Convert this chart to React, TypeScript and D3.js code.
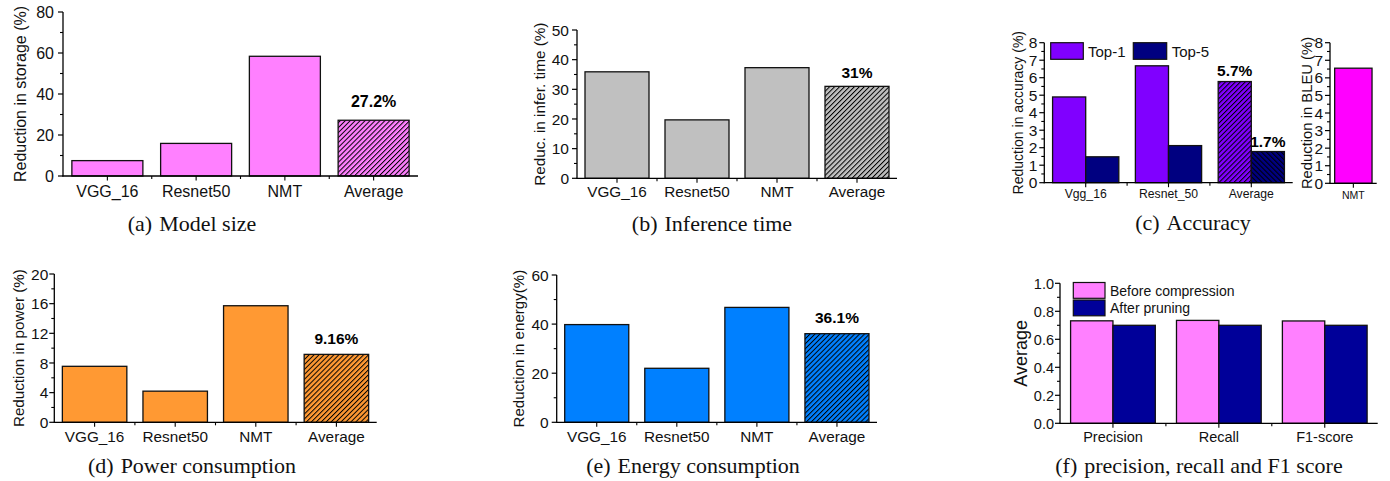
import React from 'react';
import * as d3 from 'd3';

// ---------- data ----------
const modelCategories = ['VGG_16', 'Resnet50', 'NMT', 'Average'];
const storageReduction = [7.5, 15.9, 58.4, 27.2];
const storageTicks = [0, 20, 40, 60, 80];

const inferenceReduction = [35.9, 19.7, 37.3, 31.0];
const inferenceTicks = [0, 10, 20, 30, 40, 50];

const accuracyCategories = ['Vgg_16', 'Resnet_50', 'Average'];
const top1Reduction = [4.9, 6.68, 5.78];
const top5Reduction = [1.48, 2.12, 1.78];
const accuracyTicks = [0, 1, 2, 3, 4, 5, 6, 7, 8];
const bleuCategories = ['NMT'];
const bleuReduction = [6.55];

const powerReduction = [7.55, 4.2, 15.72, 9.16];
const powerTicks = [0, 4, 8, 12, 16, 20];

const energyReduction = [39.8, 22.0, 46.8, 36.1];
const energyTicks = [0, 20, 40, 60];

const metricCategories = ['Precision', 'Recall', 'F1-score'];
const beforeCompression = [0.732, 0.735, 0.731];
const afterPruning = [0.7, 0.7, 0.7];
const averageTicks = [0, 0.2, 0.4, 0.6, 0.8, 1.0];

const storageLabel = '27.2%';
const inferenceLabel = '31%';
const top1Label = '5.7%';
const top5Label = '1.7%';
const powerLabel = '9.16%';
const energyLabel = '36.1%';

const SANS = "'Liberation Sans', Arial, Helvetica, sans-serif";
const SERIF = "'Liberation Serif', 'Times New Roman', serif";

type Series = {
  values: number[];
  color: string;
  hatch?: (i: number) => string | null;
  labels?: (string | null)[];
};

type PanelProps = {
  x0: number; x1: number; yTop: number; yBottom: number;
  categories: string[];
  series: Series[];
  ticks: number[];
  tickFmt?: (v: number) => string;
  tickFont: number;
  tickGap: number;
  xFont: number;
  xLabelY: number;
  yLabel: string;
  yLabelX: number;
  yLabelFont: number;
  valueFont?: number;
  valueOffset?: number[];
};

function Panel(p: PanelProps) {
  const ticks = p.ticks;
  const y = d3.scaleLinear().domain([ticks[0], ticks[ticks.length - 1]]).range([p.yBottom, p.yTop]);
  const xb = d3.scaleBand<string>().domain(p.categories).range([p.x0, p.x1]).paddingInner(0.2).paddingOuter(0.1);
  const xs = d3.scaleBand<string>().domain(p.series.map((_, i) => String(i))).range([0, xb.bandwidth()]);
  const minor = d3.pairs(ticks).map(([a, b]) => (a + b) / 2);
  const step = xb.step();
  const centers = p.categories.map((c) => (xb(c) as number) + xb.bandwidth() / 2);
  const bounds = p.categories.slice(1).map((c) => (xb(c) as number) - (step - xb.bandwidth()) / 2);
  const fmt = p.tickFmt || ((v: number) => String(v));
  return (
    <g>
      {p.series.map((s, si) =>
        p.categories.map((c, i) => {
          const bx = (xb(c) as number) + (xs(String(si)) as number);
          const bw = xs.bandwidth();
          const by = y(s.values[i]);
          const bh = y(0) - by;
          const h = s.hatch ? s.hatch(i) : null;
          return (
            <g key={`${si}-${i}`}>
              <rect x={bx} y={by} width={bw} height={bh} fill={s.color} />
              {h && <rect x={bx} y={by} width={bw} height={bh} fill={`url(#${h})`} />}
              <rect x={bx} y={by} width={bw} height={bh} fill="none" stroke="#111" strokeWidth={1.3} />
              {s.labels && s.labels[i] && (
                <text x={bx + bw / 2} y={by - (p.valueOffset ? p.valueOffset[si] : 8)} textAnchor="middle"
                  fontFamily={SANS} fontWeight="bold" fontSize={p.valueFont || 16} fill="#000">
                  {s.labels[i]}
                </text>
              )}
            </g>
          );
        })
      )}
      <line x1={p.x0} x2={p.x0} y1={y(ticks[0]) + 0.5} y2={p.yTop} stroke="#000" strokeWidth={1.3} />
      {ticks.map((t) => (
        <g key={`yt${t}`}>
          <line x1={p.x0 - 5} x2={p.x0} y1={y(t)} y2={y(t)} stroke="#000" strokeWidth={1.2} />
          <text x={p.x0 - p.tickGap} y={y(t)} dy="0.36em" textAnchor="end" fontFamily={SANS} fontSize={p.tickFont} fill="#111">
            {fmt(t)}
          </text>
        </g>
      ))}
      {minor.map((t) => (
        <line key={`ym${t}`} x1={p.x0 - 3} x2={p.x0} y1={y(t)} y2={y(t)} stroke="#000" strokeWidth={1.1} />
      ))}
      <line x1={p.x0 - 0.6} x2={p.x1} y1={y(0)} y2={y(0)} stroke="#000" strokeWidth={1.3} />
      {centers.map((cx, i) => (
        <line key={`xc${i}`} x1={cx} x2={cx} y1={y(0)} y2={y(0) + 4.5} stroke="#000" strokeWidth={1.1} />
      ))}
      {bounds.map((bx, i) => (
        <line key={`xb${i}`} x1={bx} x2={bx} y1={y(0)} y2={y(0) + 3} stroke="#000" strokeWidth={1.1} />
      ))}
      {p.categories.map((c, i) => (
        <text key={`xl${c}`} x={centers[i]} y={p.xLabelY} textAnchor="middle" fontFamily={SANS} fontSize={p.xFont} fill="#111">
          {c}
        </text>
      ))}
      <text transform={`translate(${p.yLabelX},${(p.yTop + p.yBottom) / 2}) rotate(-90)`} dy="0.35em" textAnchor="middle"
        fontFamily={SANS} fontSize={p.yLabelFont} fill="#111">
        {p.yLabel}
      </text>
    </g>
  );
}

function Caption({ x, y, label, text }: { x: number; y: number; label: string; text: string }) {
  return (
    <text x={x} y={y} textAnchor="middle" fontFamily={SERIF} fontSize={22} fill="#111">
      {label}
      <tspan dx={7}>{text}</tspan>
    </text>
  );
}

const lastHatch = (id: string, n: number) => (i: number) => (i === n - 1 ? id : null);
const lastLabel = (label: string, n: number) => Array.from({ length: n }, (_, i) => (i === n - 1 ? label : null));

export default function App() {
  const n4 = modelCategories.length;
  const n3 = accuracyCategories.length;
  return (
    <svg width={1390} height={481} style={{ position: 'absolute', left: 0, top: 0, background: '#fff' }}>
      <defs>
        <pattern id="hatchF" patternUnits="userSpaceOnUse" width={3.5} height={10} patternTransform="rotate(45)">
          <line x1={0.5} y1={0} x2={0.5} y2={10} stroke="#000" strokeWidth={1} />
        </pattern>
        <pattern id="hatchB" patternUnits="userSpaceOnUse" width={3.5} height={10} patternTransform="rotate(-45)">
          <line x1={0.5} y1={0} x2={0.5} y2={10} stroke="#000" strokeWidth={1} />
        </pattern>
      </defs>
      <rect width={1390} height={481} fill="#fff" />

      {/* (a) */}
      <Panel x0={63} x1={418} yTop={12} yBottom={176} categories={modelCategories}
        series={[{ values: storageReduction, color: '#ff80ff', hatch: lastHatch('hatchF', n4), labels: lastLabel(storageLabel, n4) }]}
        ticks={storageTicks} tickFont={16} tickGap={9} xFont={16} xLabelY={197}
        yLabel="Reduction in storage (%)" yLabelX={20} yLabelFont={16} valueFont={16} valueOffset={[13]} />
      <Caption x={192} y={231} label="(a)" text="Model size" />

      {/* (b) */}
      <Panel x0={577} x1={897} yTop={30} yBottom={178.3} categories={modelCategories}
        series={[{ values: inferenceReduction, color: '#c0c0c0', hatch: lastHatch('hatchF', n4), labels: lastLabel(inferenceLabel, n4) }]}
        ticks={inferenceTicks} tickFont={15.5} tickGap={8} xFont={15.3} xLabelY={196.5}
        yLabel="Reduc. in infer. time (%)" yLabelX={540} yLabelFont={15.3} valueFont={15.5} valueOffset={[8]} />
      <Caption x={712} y={231} label="(b)" text="Inference time" />

      {/* (c) */}
      <Panel x0={1044.3} x1={1292.7} yTop={42.7} yBottom={182.7} categories={accuracyCategories}
        series={[
          { values: top1Reduction, color: '#8000ff', hatch: lastHatch('hatchF', n3), labels: lastLabel(top1Label, n3) },
          { values: top5Reduction, color: '#000080', hatch: lastHatch('hatchB', n3), labels: lastLabel(top5Label, n3) },
        ]}
        ticks={accuracyTicks} tickFont={15.5} tickGap={7} xFont={12.2} xLabelY={197.5}
        yLabel="Reduction in accuracy (%)" yLabelX={1018} yLabelFont={14} valueFont={15.5} valueOffset={[6, 5]} />
      <rect x={1050.7} y={42.7} width={32.6} height={16.6} fill="#8000ff" stroke="#111" strokeWidth={1.2} />
      <text x={1088} y={57} fontFamily={SANS} fontSize={15} fill="#111">Top-1</text>
      <rect x={1133.3} y={42.7} width={33.4} height={16.6} fill="#000080" stroke="#111" strokeWidth={1.2} />
      <text x={1171.7} y={57} fontFamily={SANS} fontSize={15} fill="#111">Top-5</text>
      <Panel x0={1330} x1={1376.7} yTop={42.7} yBottom={183.3} categories={bleuCategories}
        series={[{ values: bleuReduction, color: '#ff00ff' }]}
        ticks={accuracyTicks} tickFont={15.5} tickGap={7} xFont={10.5} xLabelY={199}
        yLabel="Reduction in BLEU (%)" yLabelX={1307} yLabelFont={14.8} />
      <Caption x={1193} y={230} label="(c)" text="Accuracy" />

      {/* (d) */}
      <Panel x0={54.3} x1={376.7} yTop={274} yBottom={422.3} categories={modelCategories}
        series={[{ values: powerReduction, color: '#ff9933', hatch: lastHatch('hatchF', n4), labels: lastLabel(powerLabel, n4) }]}
        ticks={powerTicks} tickFont={15.5} tickGap={6} xFont={15.3} xLabelY={441.5}
        yLabel="Reduction in power (%)" yLabelX={18.5} yLabelFont={15.2} valueFont={15.5} valueOffset={[10]} />
      <Caption x={192} y={472.5} label="(d)" text="Power consumption" />

      {/* (e) */}
      <Panel x0={556.7} x1={877} yTop={275} yBottom={422.3} categories={modelCategories}
        series={[{ values: energyReduction, color: '#0080ff', hatch: lastHatch('hatchF', n4), labels: lastLabel(energyLabel, n4) }]}
        ticks={energyTicks} tickFont={15.5} tickGap={8} xFont={15.3} xLabelY={441.5}
        yLabel="Reduction in energy(%)" yLabelX={518.5} yLabelFont={15.1} valueFont={15.5} valueOffset={[10.5]} />
      <Caption x={693} y={472.5} label="(e)" text="Energy consumption" />

      {/* (f) */}
      <Panel x0={1060} x1={1377.7} yTop={283.3} yBottom={423.3} categories={metricCategories}
        series={[
          { values: beforeCompression, color: '#ff80ff' },
          { values: afterPruning, color: '#000099' },
        ]}
        ticks={averageTicks} tickFmt={(v) => v.toFixed(1)} tickFont={14.5} tickGap={6} xFont={14.5} xLabelY={441.5}
        yLabel="Average" yLabelX={1021} yLabelFont={18} />
      <rect x={1073.3} y={282.5} width={31.7} height={15.8} fill="#ff80ff" stroke="#111" strokeWidth={1.2} />
      <text x={1110} y={295.5} fontFamily={SANS} fontSize={14} fill="#111">Before compression</text>
      <rect x={1073.3} y={300} width={31.7} height={15.8} fill="#000099" stroke="#111" strokeWidth={1.2} />
      <text x={1110} y={313} fontFamily={SANS} fontSize={14} fill="#111">After pruning</text>
      <Caption x={1199} y={472.5} label="(f)" text="precision, recall and F1 score" />
    </svg>
  );
}
